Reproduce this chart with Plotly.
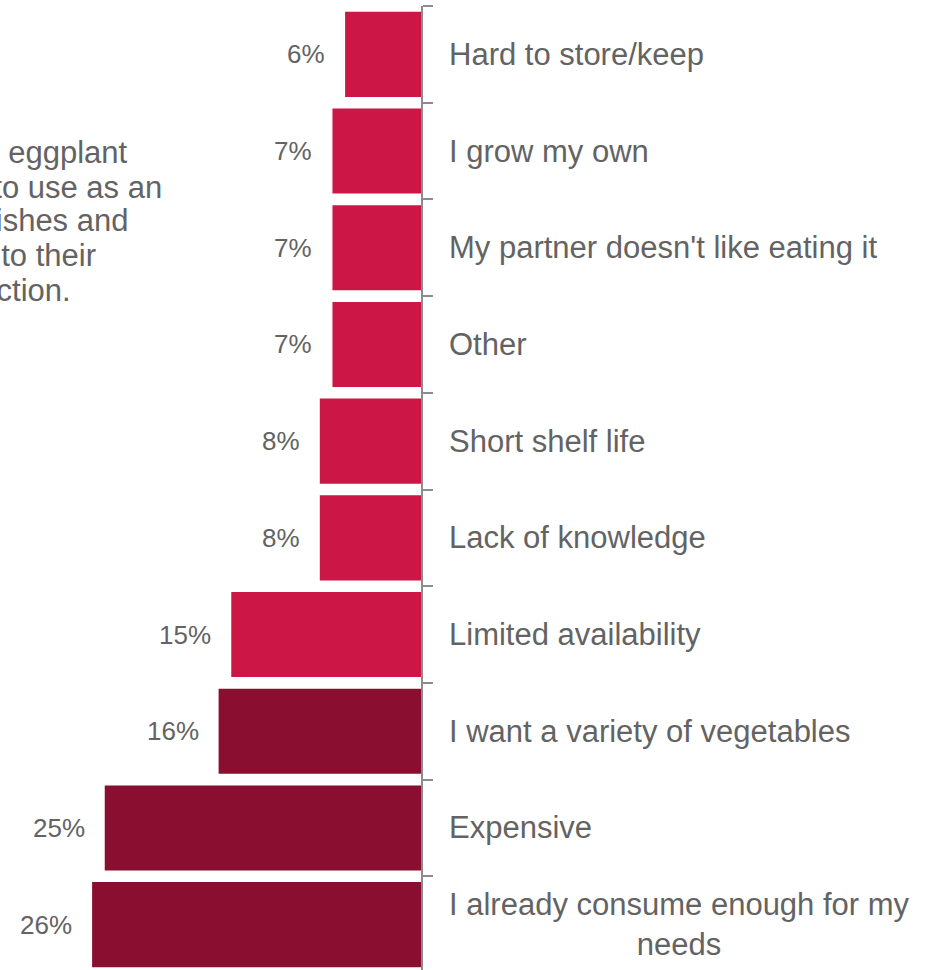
import plotly.graph_objects as go

# Reasons for not buying more eggplant, top to bottom
categories = [
    "Hard to store/keep",
    "I grow my own",
    "My partner doesn't like eating it",
    "Other",
    "Short shelf life",
    "Lack of knowledge",
    "Limited availability",
    "I want a variety of vegetables",
    "Expensive",
    "I already consume enough for my<br>needs",
]
shares = [6, 7, 7, 7, 8, 8, 15, 16, 25, 26]
light_red = "#CC1646"
dark_red = "#8A0E30"
bar_colors = [light_red] * 7 + [dark_red] * 3

note_lines = [
    "Consumers who buy eggplant",
    "mainly want to use as an",
    "ingredient in dishes and",
    "add variety to their",
    "diet and satisfaction.",
]

W, H = 928, 970
TOP = 6
PLOT_W = 421
PLOT_H = H - TOP
text_grey = "#636363"
axis_grey = "#8C8C8C"
font_family = "Liberation Sans, Arial, sans-serif"

fig = go.Figure(
    go.Bar(
        x=shares,
        y=categories,
        orientation="h",
        marker=dict(color=bar_colors, line=dict(width=0)),
        hoverinfo="skip",
    )
)

# percentage labels to the left of each bar
for c, v in zip(categories, shares):
    fig.add_annotation(
        x=v, y=c, xref="x", yref="y",
        text=f"{v}%", showarrow=False,
        xanchor="right", yanchor="middle", xshift=-18,
        font=dict(size=26, color=text_grey, family=font_family),
    )

# category labels to the right of the axis
for c in categories:
    fig.add_annotation(
        x=1, y=c, xref="paper", yref="y",
        text=c, showarrow=False,
        xanchor="left", yanchor="middle", align="center", xshift=26,
        font=dict(size=31, color=text_grey, family=font_family),
    )

# side note, one line per annotation
note_right_px = [130, 164, 130, 98, 73]
note_mid_px = [152, 187, 221, 256, 290]
for line, rx, my in zip(note_lines, note_right_px, note_mid_px):
    fig.add_annotation(
        x=rx / PLOT_W, y=1 - (my - TOP) / PLOT_H, xref="paper", yref="paper",
        text=line, showarrow=False, xanchor="right", yanchor="middle",
        font=dict(size=31, color=text_grey, family=font_family),
    )

px_per_pct = 12.65
cat_px = 96.7
fig.update_layout(
    width=W, height=H,
    margin=dict(l=0, r=W - PLOT_W, t=TOP, b=0, pad=0),
    paper_bgcolor="white", plot_bgcolor="white",
    bargap=0.12,
    showlegend=False,
    xaxis=dict(range=[PLOT_W / px_per_pct, 0], visible=False, fixedrange=True),
    yaxis=dict(
        type="category",
        categoryorder="array", categoryarray=categories,
        range=[-0.5 + PLOT_H / cat_px, -0.5001],
        side="right", showline=True, linecolor=axis_grey, linewidth=2,
        ticks="outside", ticklen=10, tickwidth=2, tickcolor=axis_grey,
        tickson="boundaries", showgrid=False, zeroline=False,
        showticklabels=False,
    ),
)

fig.write_html("out.html")
